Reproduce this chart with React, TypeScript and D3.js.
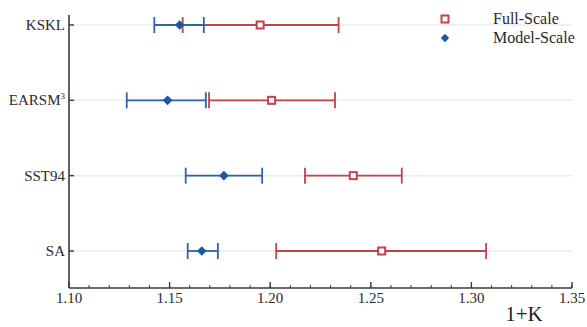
import React, { useEffect, useRef } from "react";
import * as d3 from "d3";

// turbulence models, bottom to top order as drawn
const models = ["SA", "SST94", "EARSM", "KSKL"];
const modelSup = ["", "", "3", ""];

// 1+K estimates (Model-Scale)
const modelLow = [1.159, 1.158, 1.1287, 1.1424];
const modelVal = [1.166, 1.177, 1.149, 1.155];
const modelHigh = [1.174, 1.196, 1.168, 1.167];

// 1+K estimates (Full-Scale)
const fullLow = [1.203, 1.2173, 1.1696, 1.1565];
const fullVal = [1.2554, 1.2413, 1.2007, 1.195];
const fullHigh = [1.3073, 1.2654, 1.2322, 1.234];

const xTicks = [1.1, 1.15, 1.2, 1.25, 1.3, 1.35];

const RED = "#c0434a";
const BLUE = "#2f62a6";

const App: React.FC = () => {
  const svgRef = useRef<SVGSVGElement | null>(null);

  useEffect(() => {
    const w = 587;
    const h = 327;
    const svg = d3.select(svgRef.current);
    svg.selectAll("*").remove();
    svg.attr("width", w).attr("height", h).style("background", "#fff");

    const left = 69;
    const right = 572;
    const bottom = 288;
    const top = 15;

    const x = d3.scaleLinear().domain([1.1, 1.35]).range([left, right]);
    const y = d3.scaleLinear().domain([0, 3]).range([251, 25]);

    const font = "'Liberation Serif', 'Times New Roman', serif";
    const textColor = "#2a2a2a";

    // grid lines
    svg
      .selectAll(".grid")
      .data(models)
      .enter()
      .append("line")
      .attr("x1", left)
      .attr("x2", right)
      .attr("y1", (_, i) => y(i))
      .attr("y2", (_, i) => y(i))
      .attr("stroke", "#ececec")
      .attr("stroke-width", 1.5);

    // error bars
    const drawBars = (
      lo: number[],
      hi: number[],
      color: string,
      width: number
    ) => {
      const g = svg.append("g");
      models.forEach((_, i) => {
        const yy = y(i);
        g.append("line")
          .attr("x1", x(lo[i]))
          .attr("x2", x(hi[i]))
          .attr("y1", yy)
          .attr("y2", yy)
          .attr("stroke", color)
          .attr("stroke-width", width);
        [lo[i], hi[i]].forEach((v) => {
          g.append("line")
            .attr("x1", x(v))
            .attr("x2", x(v))
            .attr("y1", yy - 8)
            .attr("y2", yy + 8)
            .attr("stroke", color)
            .attr("stroke-width", width);
        });
      });
    };
    drawBars(fullLow, fullHigh, RED, 1.8);
    drawBars(modelLow, modelHigh, BLUE, 1.8);

    // markers
    svg
      .selectAll(".full")
      .data(fullVal)
      .enter()
      .append("rect")
      .attr("x", (d) => x(d) - 3.5)
      .attr("y", (_, i) => y(i) - 3.5)
      .attr("width", 7)
      .attr("height", 7)
      .attr("fill", "#fff")
      .attr("stroke", RED)
      .attr("stroke-width", 2);

    const diamond = d3.symbol().type(d3.symbolDiamond2).size(60);
    svg
      .selectAll(".model")
      .data(modelVal)
      .enter()
      .append("path")
      .attr("d", diamond)
      .attr("transform", (d, i) => `translate(${x(d)},${y(i)})`)
      .attr("fill", "#1f56a0");

    // axes
    const axisColor = "#3a3a3a";
    svg
      .append("line")
      .attr("x1", left)
      .attr("x2", left)
      .attr("y1", top)
      .attr("y2", bottom)
      .attr("stroke", axisColor)
      .attr("stroke-width", 1.6);
    svg
      .append("line")
      .attr("x1", left)
      .attr("x2", right)
      .attr("y1", bottom)
      .attr("y2", bottom)
      .attr("stroke", axisColor)
      .attr("stroke-width", 1.6);

    // x ticks
    const minor = d3.range(110, 136).map((v) => v / 100);
    svg
      .selectAll(".minor")
      .data(minor)
      .enter()
      .append("line")
      .attr("x1", (d) => x(d))
      .attr("x2", (d) => x(d))
      .attr("y1", bottom)
      .attr("y2", bottom - 3)
      .attr("stroke", axisColor)
      .attr("stroke-width", 1);
    svg
      .selectAll(".major")
      .data(xTicks)
      .enter()
      .append("line")
      .attr("x1", (d) => x(d))
      .attr("x2", (d) => x(d))
      .attr("y1", bottom)
      .attr("y2", bottom - 6)
      .attr("stroke", axisColor)
      .attr("stroke-width", 1.4);
    svg
      .selectAll(".xlab")
      .data(xTicks)
      .enter()
      .append("text")
      .attr("x", (d) => x(d))
      .attr("y", bottom + 15)
      .attr("text-anchor", "middle")
      .attr("font-family", font)
      .attr("font-size", 15)
      .attr("fill", textColor)
      .text((d) => d3.format(".2f")(d));

    svg
      .append("text")
      .attr("x", 524)
      .attr("y", 321)
      .attr("text-anchor", "middle")
      .attr("font-family", font)
      .attr("font-size", 21)
      .attr("fill", "#1e1e1e")
      .text("1+K");

    // y ticks and labels
    svg
      .selectAll(".ytick")
      .data(models)
      .enter()
      .append("line")
      .attr("x1", left)
      .attr("x2", left + 5)
      .attr("y1", (_, i) => y(i))
      .attr("y2", (_, i) => y(i))
      .attr("stroke", axisColor)
      .attr("stroke-width", 1.4);

    const labels = svg
      .selectAll(".ylab")
      .data(models)
      .enter()
      .append("text")
      .attr("x", 65)
      .attr("y", (_, i) => y(i) + 5)
      .attr("text-anchor", "end")
      .attr("font-family", font)
      .attr("font-size", 15)
      .attr("fill", textColor);
    labels.append("tspan").text((d) => d);
    labels
      .append("tspan")
      .attr("dy", -6)
      .attr("font-size", 9)
      .text((_, i) => modelSup[i]);

    // legend
    const legend = svg.append("g").attr("transform", "translate(445,0)");
    legend
      .append("rect")
      .attr("x", -3.5)
      .attr("y", 19 - 3.5)
      .attr("width", 7)
      .attr("height", 7)
      .attr("fill", "#fff")
      .attr("stroke", RED)
      .attr("stroke-width", 2);
    legend
      .append("path")
      .attr("d", d3.symbol().type(d3.symbolDiamond2).size(45))
      .attr("transform", "translate(0,38)")
      .attr("fill", "#1f56a0");
    legend
      .append("text")
      .attr("x", 48)
      .attr("y", 24)
      .attr("font-family", font)
      .attr("font-size", 16)
      .attr("fill", textColor)
      .text("Full-Scale");
    legend
      .append("text")
      .attr("x", 48)
      .attr("y", 43)
      .attr("font-family", font)
      .attr("font-size", 16)
      .attr("fill", textColor)
      .text("Model-Scale");
  }, []);

  return (
    <svg
      ref={svgRef}
      style={{ position: "absolute", left: 0, top: 0, display: "block" }}
    ></svg>
  );
};

export default App;
